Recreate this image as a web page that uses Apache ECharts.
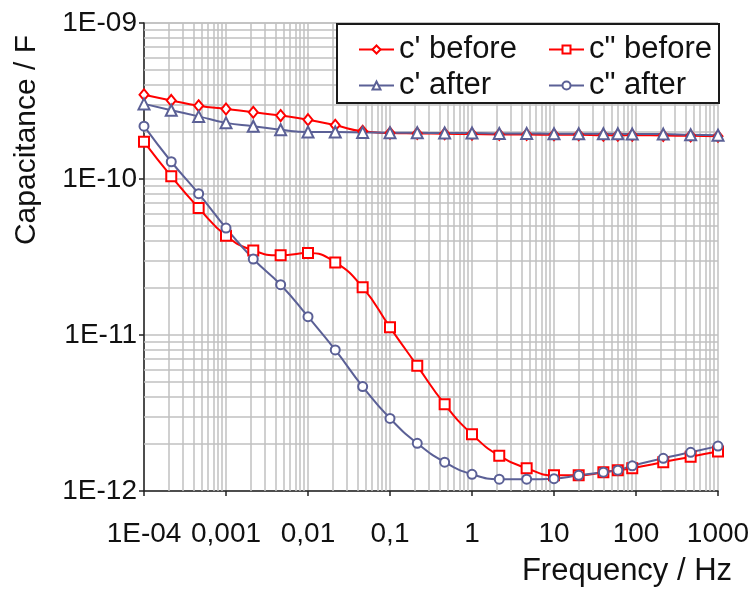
<!DOCTYPE html>
<html>
<head>
<meta charset="utf-8">
<script src="https://cdn.jsdelivr.net/npm/echarts@6/dist/echarts.min.js"></script>
<style>
  html, body { margin: 0; padding: 0; background: #fff; }
  #chart { width: 753px; height: 593px; }
</style>
</head>
<body>
<div id="chart"></div>
<script>
// Measurement frequencies (Hz)
const frequencies = [1e-4, 2.15e-4, 4.64e-4, 1e-3, 2.15e-3, 4.64e-3, 1e-2, 2.15e-2, 4.64e-2,
  0.1, 0.215, 0.464, 1, 2.15, 4.64, 10, 20, 40, 60, 90, 215, 464, 1000];

// Real part of capacitance (F)
const cRealBefore = [3.47e-10, 3.19e-10, 2.95e-10, 2.81e-10, 2.68e-10, 2.55e-10, 2.40e-10, 2.21e-10, 2.02e-10,
  1.97e-10, 1.96e-10, 1.95e-10, 1.94e-10, 1.93e-10, 1.93e-10, 1.92e-10, 1.92e-10, 1.91e-10, 1.91e-10, 1.91e-10,
  1.90e-10, 1.89e-10, 1.88e-10];
const cRealAfter = [3.03e-10, 2.76e-10, 2.52e-10, 2.29e-10, 2.18e-10, 2.07e-10, 2.00e-10, 2.00e-10, 1.99e-10,
  1.98e-10, 1.98e-10, 1.97e-10, 1.97e-10, 1.96e-10, 1.96e-10, 1.95e-10, 1.95e-10, 1.95e-10, 1.95e-10, 1.94e-10,
  1.94e-10, 1.92e-10, 1.91e-10];

// Imaginary part of capacitance (F)
const cImagBefore = [1.73e-10, 1.04e-10, 6.52e-11, 4.33e-11, 3.48e-11, 3.24e-11, 3.35e-11, 2.92e-11, 2.02e-11,
  1.12e-11, 6.34e-12, 3.60e-12, 2.31e-12, 1.68e-12, 1.40e-12, 1.26e-12, 1.26e-12, 1.32e-12, 1.36e-12, 1.40e-12,
  1.53e-12, 1.66e-12, 1.79e-12];
const cImagAfter = [2.18e-10, 1.29e-10, 8.05e-11, 4.85e-11, 3.07e-11, 2.10e-11, 1.31e-11, 8.02e-12, 4.67e-12,
  2.92e-12, 2.02e-12, 1.53e-12, 1.28e-12, 1.19e-12, 1.19e-12, 1.20e-12, 1.26e-12, 1.32e-12, 1.36e-12, 1.45e-12,
  1.62e-12, 1.77e-12, 1.94e-12];

const seriesNames = ["c' before", 'c" before', "c' after", 'c" after'];
const xTickLabels = ['1E-04', '0,001', '0,01', '0,1', '1', '10', '100', '1000'];
const yTickLabels = ['1E-12', '1E-11', '1E-10', '1E-09'];
const xRange = [1e-4, 1000];
const yRange = [1e-12, 1e-9];

const FONT = '"Liberation Sans", Arial, sans-serif';
const RED = '#ff0000';
const SLATE = '#5b6096';
const GRID = '#c0c0c0';

const pairs = ys => frequencies.map((f, i) => [f, ys[i]]);

// minor log grid lines (2..9 within every decade)
const minorX = [];
for (let e = -4; e < 3; e++) for (let m = 2; m <= 9; m++) minorX.push({ xAxis: m * Math.pow(10, e) });
const minorY = [];
for (let e = -12; e < -9; e++) for (let m = 2; m <= 9; m++) minorY.push({ yAxis: m * Math.pow(10, e) });

function gridHelper(lines) {
  return {
    type: 'line', silent: true, z: 1, symbol: 'none',
    data: [[xRange[0], yRange[0]], [xRange[1], yRange[1]]],
    lineStyle: { opacity: 0 },
    markLine: {
      silent: true, symbol: 'none', animation: false, precision: 20, z: 1,
      label: { show: false },
      lineStyle: { color: GRID, width: 1.5, type: 'solid' },
      emphasis: { disabled: true },
      data: lines
    }
  };
}

function curve(name, data, color, symbol, size) {
  return {
    name, type: 'line', data: pairs(data), smooth: 0.5,
    symbol, symbolSize: size, showAllSymbol: true,
    lineStyle: { color, width: 2 },
    itemStyle: { color, borderColor: color, borderWidth: 2 },
    z: 3
  };
}

const legendBase = {
  orient: 'vertical', top: 34, padding: 0,
  itemWidth: 35, itemHeight: 10, itemGap: 5, selectedMode: false, z: 6,
  textStyle: { fontSize: 31, lineHeight: 29, fontFamily: FONT, color: '#111' }
};

const chart = echarts.init(document.getElementById('chart'), null, { renderer: 'canvas' });
chart.setOption({
  animation: false,
  backgroundColor: '#fff',
  grid: { left: 144, right: 35, top: 23, bottom: 102 },
  xAxis: {
    type: 'log', logBase: 10, min: xRange[0], max: xRange[1], splitNumber: 7,
    axisLine: { show: true, onZero: false, lineStyle: { color: '#222', width: 1.5 } },
    axisTick: { show: true, inside: false, length: 5, lineStyle: { color: '#222', width: 1.5 } },
    axisLabel: {
      margin: 29, fontSize: 28, fontFamily: FONT, color: '#111',
      formatter: v => xTickLabels[Math.round(Math.log10(v)) + 4]
    },
    splitLine: { show: true, lineStyle: { color: GRID, width: 1.5 } }
  },
  yAxis: {
    type: 'log', logBase: 10, min: yRange[0], max: yRange[1], splitNumber: 3,
    axisLine: { show: true, onZero: false, lineStyle: { color: '#222', width: 1.5 } },
    axisTick: { show: true, inside: false, length: 5, lineStyle: { color: '#222', width: 1.5 } },
    axisLabel: {
      margin: 7, fontSize: 28, fontFamily: FONT, color: '#111',
      formatter: v => yTickLabels[Math.round(Math.log10(v)) + 12]
    },
    splitLine: { show: true, lineStyle: { color: GRID, width: 1.5 } }
  },
  legend: [
    Object.assign({}, legendBase, { data: [seriesNames[0], seriesNames[2]], left: 358 }),
    Object.assign({}, legendBase, { data: [seriesNames[1], seriesNames[3]], left: 548 })
  ],
  graphic: [
    {
      type: 'rect', z: 5, silent: true,
      shape: { x: 337, y: 24, width: 382, height: 79 },
      style: { fill: '#fff', stroke: '#1a1a1a', lineWidth: 2 }
    },
    {
      type: 'text', x: 627, y: 571, silent: true,
      style: { text: 'Frequency / Hz', fontSize: 31, fontFamily: FONT, fill: '#111', align: 'center', verticalAlign: 'middle' }
    },
    {
      type: 'text', x: 27, y: 140, rotation: Math.PI / 2, silent: true,
      style: { text: 'Capacitance / F', fontSize: 30, fontFamily: FONT, fill: '#111', align: 'center', verticalAlign: 'middle' }
    }
  ],
  series: [
    gridHelper(minorX),
    gridHelper(minorY),
    curve(seriesNames[0], cRealBefore, RED, 'emptyDiamond', [9, 11]),
    curve(seriesNames[1], cImagBefore, RED, 'emptyRect', 10),
    curve(seriesNames[2], cRealAfter, SLATE, 'emptyTriangle', 11),
    curve(seriesNames[3], cImagAfter, SLATE, 'emptyCircle', 9)
  ]
});
</script>
</body>
</html>
